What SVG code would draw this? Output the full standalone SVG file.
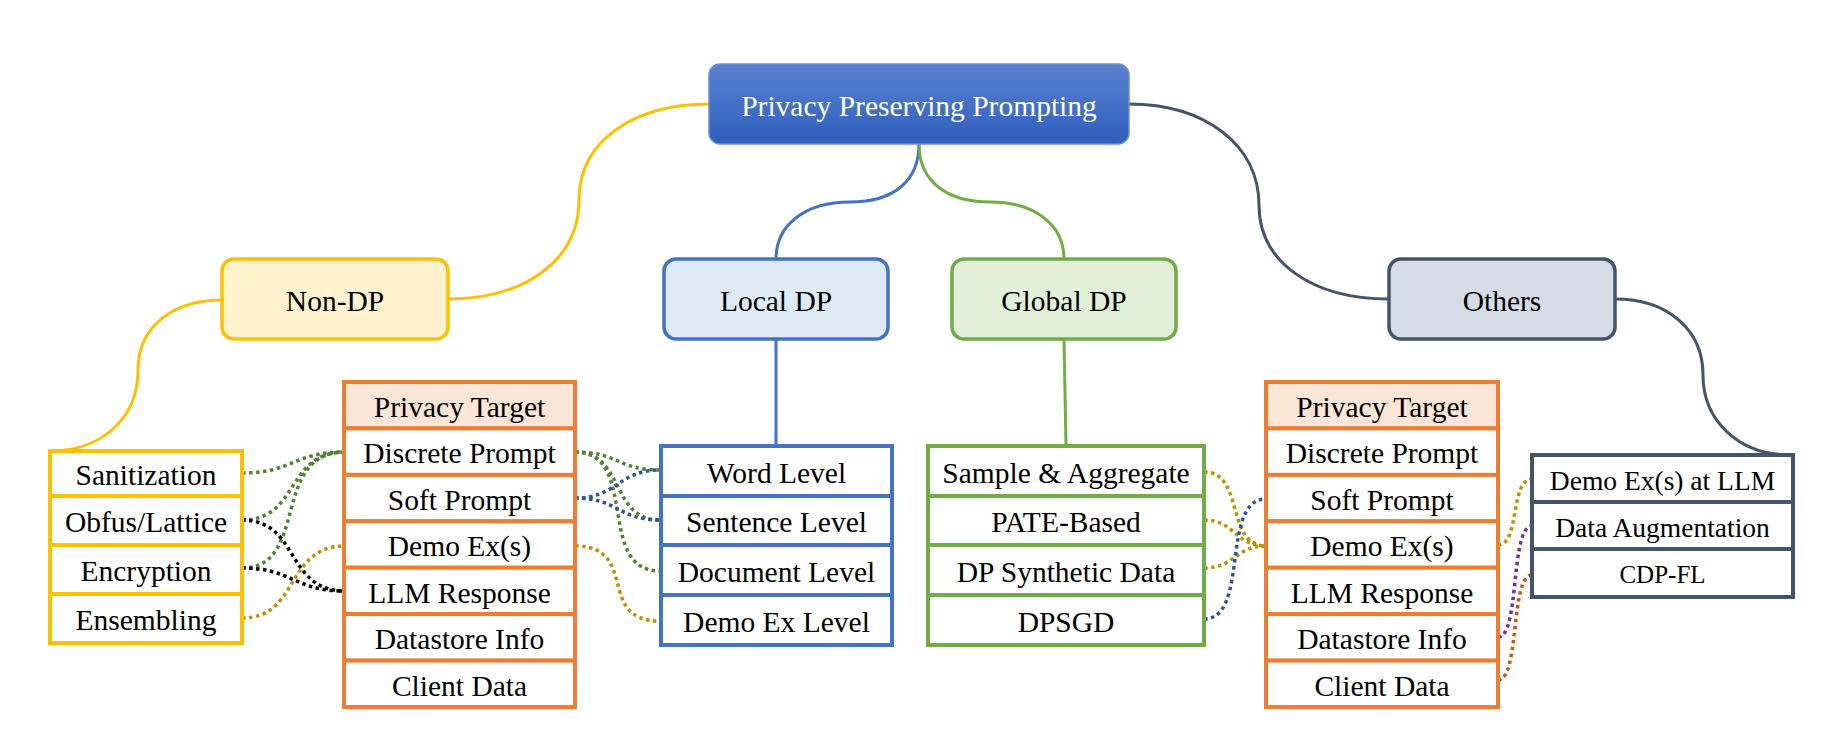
<svg xmlns="http://www.w3.org/2000/svg" width="1830" height="734" viewBox="0 0 1830 734">
<defs>
<linearGradient id="rootGrad" x1="0" y1="0" x2="0" y2="1">
<stop offset="0" stop-color="#5B82D0"/>
<stop offset="1" stop-color="#2E5FBD"/>
</linearGradient>
<style>
text{font-family:"Liberation Serif","Times New Roman",serif;font-size:29.5px;fill:#000;text-anchor:middle}
.t27{font-size:27.5px}
.t25{font-size:25px}
.rootT{fill:#fff}
.l2{stroke-width:3.5}
.cell{fill:#fff;stroke-width:4}
.y{stroke:#FFC000}
.o{stroke:#ED7D31}
.b{stroke:#4472C4}
.g{stroke:#70AD47}
.d{stroke:#44546A}
.main{fill:none;stroke-width:3}
.dot{fill:none;stroke-width:3.5;stroke-dasharray:3.5 3.5}
.cg{stroke:#548235}
.cb{stroke:#2F5597}
.cy{stroke:#BF9000}
.ck{stroke:#000}
.cp{stroke:#7030A0}
.co{stroke:#C55A11}
</style>
</defs>
<rect width="1830" height="734" fill="#fff"/>

<g id="connectors">
<path class="main y" d="M709,104 C635,104 579,140 579,200 C579,260 525,299 448,299"/>
<path class="main b" d="M919,144 C919,180 895,202 850,202 C805,202 776,225 776,259"/>
<path class="main g" d="M919,144 C919,180 945,202 990,202 C1035,202 1064,225 1064,259"/>
<path class="main d" d="M1129,104 C1205,104 1259,145 1259,205 C1259,262 1312,299 1389,299"/>
<path class="main d" d="M1615,299 C1668,299 1703,330 1703,375 C1703,420 1738,455 1790,455"/>
<path class="main y" d="M222,300 C175,300 138,325 138,370 C138,420 100,451 50,451"/>
<path class="main b" d="M776,339 L776,446"/>
<path class="main g" d="M1064,339 L1066,446"/>

<path class="dot cg" d="M242,473 C293,473 293,452 345,452"/>
<path class="dot cg" d="M242,520 C300,520 285,452 345,452"/>
<path class="dot cg" d="M242,568 C310,568 270,452 345,452"/>
<path class="dot ck" d="M242,520 C300,520 285,591 345,591"/>
<path class="dot ck" d="M242,568 C293,568 293,591 345,591"/>
<path class="dot cy" d="M242,618 C300,618 285,546 345,546"/>

<path class="dot cg" d="M575,452 C618,452 618,470 660,470"/>
<path class="dot cg" d="M575,452 C625,452 610,520 660,520"/>
<path class="dot cg" d="M575,452 C640,452 595,571 660,571"/>
<path class="dot cb" d="M575,498 C618,498 618,470 660,470"/>
<path class="dot cb" d="M575,498 C618,498 618,520 660,520"/>
<path class="dot cy" d="M575,546 C640,546 595,621 660,621"/>

<path class="dot cy" d="M1204,472 C1245,472 1225,546 1266,546"/>
<path class="dot cy" d="M1204,520 C1235,520 1235,546 1266,546"/>
<path class="dot cy" d="M1204,568 C1235,568 1235,546 1266,546"/>
<path class="dot cb" d="M1204,619 C1250,619 1220,499 1266,499"/>

<path class="dot cy" d="M1498,545 C1520,545 1510,479 1532,479"/>
<path class="dot cp" d="M1498,637 C1520,637 1510,526 1532,526"/>
<path class="dot co" d="M1498,680 C1520,680 1510,575 1532,575"/>
</g>

<g id="root">
<rect x="709" y="64" width="420" height="80" rx="11" fill="url(#rootGrad)" stroke="#6A8FD6" stroke-width="1.5"/>
<text class="rootT" x="919" y="116">Privacy Preserving Prompting</text>
</g>

<g id="non-dp">
<rect class="l2 y" x="222" y="259" width="226" height="80" rx="12" fill="#FFF2CC"/>
<text x="335" y="311">Non-DP</text>
</g>
<g id="local-dp">
<rect class="l2 b" x="664" y="259" width="224" height="80" rx="12" fill="#DEEBF7"/>
<text x="776" y="311">Local DP</text>
</g>
<g id="global-dp">
<rect class="l2 g" x="952" y="259" width="224" height="80" rx="12" fill="#E2F0D9"/>
<text x="1064" y="311">Global DP</text>
</g>
<g id="others">
<rect class="l2 d" x="1389" y="259" width="226" height="80" rx="12" fill="#D6DCE5"/>
<text x="1502" y="311">Others</text>
</g>

<g id="nondp-methods">
<rect class="cell y" x="50" y="451" width="192" height="45"/>
<rect class="cell y" x="50" y="496" width="192" height="49"/>
<rect class="cell y" x="50" y="545" width="192" height="49"/>
<rect class="cell y" x="50" y="594" width="192" height="49"/>
<text x="146" y="485">Sanitization</text>
<text x="146" y="532">Obfus/Lattice</text>
<text x="146" y="581">Encryption</text>
<text x="146" y="630">Ensembling</text>
</g>

<g id="privacy-target-left">
<rect class="cell o" x="344" y="382" width="231" height="46.4" style="fill:#FBE5D6"/>
<rect class="cell o" x="344" y="428.4" width="231" height="46.5"/>
<rect class="cell o" x="344" y="474.9" width="231" height="46.4"/>
<rect class="cell o" x="344" y="521.3" width="231" height="46.4"/>
<rect class="cell o" x="344" y="567.7" width="231" height="46.4"/>
<rect class="cell o" x="344" y="614.1" width="231" height="46.5"/>
<rect class="cell o" x="344" y="660.6" width="231" height="46.4"/>
<text x="459.5" y="416.5">Privacy Target</text>
<text x="459.5" y="463">Discrete Prompt</text>
<text x="459.5" y="509.5">Soft Prompt</text>
<text x="459.5" y="556">Demo Ex(s)</text>
<text x="459.5" y="602.5">LLM Response</text>
<text x="459.5" y="649">Datastore Info</text>
<text x="459.5" y="695.5">Client Data</text>
</g>

<g id="localdp-methods">
<rect class="cell b" x="661" y="446" width="231" height="50"/>
<rect class="cell b" x="661" y="496" width="231" height="49"/>
<rect class="cell b" x="661" y="545" width="231" height="50"/>
<rect class="cell b" x="661" y="595" width="231" height="50"/>
<text x="776.5" y="482.5">Word Level</text>
<text x="776.5" y="532">Sentence Level</text>
<text x="776.5" y="581.5">Document Level</text>
<text x="776.5" y="631.5">Demo Ex Level</text>
</g>

<g id="globaldp-methods">
<rect class="cell g" x="928" y="446" width="276" height="50"/>
<rect class="cell g" x="928" y="496" width="276" height="49"/>
<rect class="cell g" x="928" y="545" width="276" height="50"/>
<rect class="cell g" x="928" y="595" width="276" height="50"/>
<text x="1066" y="482.5">Sample &amp; Aggregate</text>
<text x="1066" y="532">PATE-Based</text>
<text x="1066" y="581.5">DP Synthetic Data</text>
<text x="1066" y="631.5">DPSGD</text>
</g>

<g id="privacy-target-right">
<rect class="cell o" x="1266" y="382" width="232" height="46.4" style="fill:#FBE5D6"/>
<rect class="cell o" x="1266" y="428.4" width="232" height="46.5"/>
<rect class="cell o" x="1266" y="474.9" width="232" height="46.4"/>
<rect class="cell o" x="1266" y="521.3" width="232" height="46.4"/>
<rect class="cell o" x="1266" y="567.7" width="232" height="46.4"/>
<rect class="cell o" x="1266" y="614.1" width="232" height="46.5"/>
<rect class="cell o" x="1266" y="660.6" width="232" height="46.4"/>
<text x="1382" y="416.5">Privacy Target</text>
<text x="1382" y="463">Discrete Prompt</text>
<text x="1382" y="509.5">Soft Prompt</text>
<text x="1382" y="556">Demo Ex(s)</text>
<text x="1382" y="602.5">LLM Response</text>
<text x="1382" y="649">Datastore Info</text>
<text x="1382" y="695.5">Client Data</text>
</g>

<g id="others-methods">
<rect class="cell d" x="1532" y="455" width="261" height="47"/>
<rect class="cell d" x="1532" y="502" width="261" height="47"/>
<rect class="cell d" x="1532" y="549" width="261" height="48"/>
<text class="t27" x="1662.5" y="489.5">Demo Ex(s) at LLM</text>
<text class="t27" x="1662.5" y="536.5">Data Augmentation</text>
<text class="t25" x="1662.5" y="582.5">CDP-FL</text>
</g>
</svg>
